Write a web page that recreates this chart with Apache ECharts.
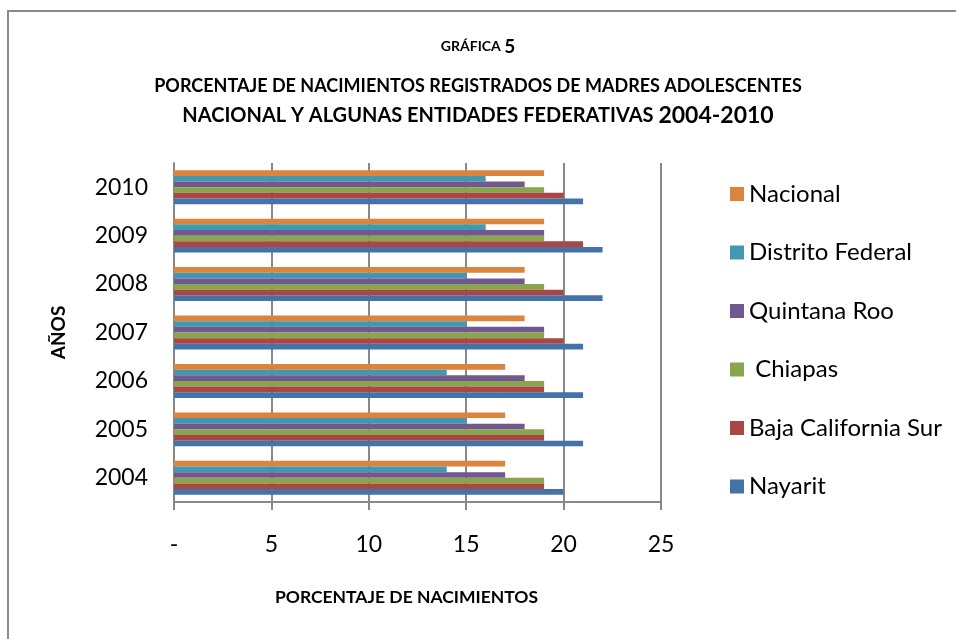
<!DOCTYPE html>
<html><head><meta charset="utf-8">
<script src="https://cdn.jsdelivr.net/npm/echarts@6/dist/echarts.min.js"></script>
<style>html,body{margin:0;padding:0;background:#fff}#c{width:956px;height:639px}</style>
</head><body><div id="c"></div>
<script>
const years = ['2004','2005','2006','2007','2008','2009','2010'];
const nayarit   = [20, 21, 21, 21, 22, 22, 21];
const bcs       = [19, 19, 19, 20, 20, 21, 20];
const chiapas   = [19, 19, 19, 19, 19, 19, 19];
const quintana  = [17, 18, 18, 19, 18, 19, 18];
const df        = [14, 15, 14, 15, 15, 16, 16];
const nacional  = [17, 17, 17, 18, 18, 19, 19];
const xTicks = [0, 5, 10, 15, 20, 25];

const F = 'Lato, "Noto Sans", sans-serif';
const seriesDefs = [
  ['Nacional', nacional, '#DB843D'],
  ['Distrito Federal', df, '#4198AF'],
  ['Quintana Roo', quintana, '#71588F'],
  [' Chiapas', chiapas, '#89A54E'],
  ['Baja California Sur', bcs, '#AA4643'],
  ['Nayarit', nayarit, '#4572A7']
];
const chart = echarts.init(document.getElementById('c'));
chart.setOption({
  animation: false,
  backgroundColor: '#fff',
  title: [
    {text: '{a|GRÁFICA }{b|5}', left: 'center', top: 32, padding: [5, 19, 5, 5], textStyle: {rich: {a: {fontFamily: F, fontWeight: 'bold', fontSize: 14, color: '#000'}, b: {fontFamily: F, fontWeight: 'bold', fontSize: 19, color: '#000'}}}},
    {text: 'PORCENTAJE DE NACIMIENTOS REGISTRADOS DE MADRES ADOLESCENTES', left: 'center', top: 72, padding: [5, 19, 5, 5], textStyle: {fontFamily: F, fontWeight: 'bold', fontSize: 18, color: '#000'}},
    {text: '{a|NACIONAL Y ALGUNAS ENTIDADES FEDERATIVAS }{b|2004-2010}', left: 'center', top: 99, padding: [5, 19, 5, 5], textStyle: {rich: {a: {fontFamily: F, fontWeight: 'bold', fontSize: 20, color: '#000'}, b: {fontFamily: F, fontWeight: 'bold', fontSize: 23, color: '#000'}}}}
  ],
  graphic: [{type: 'rect', shape: {x: 8, y: 11, width: 960, height: 640}, style: {fill: 'none', stroke: '#8a8a8a', lineWidth: 2}, silent: true}],
  legend: {
    orient: 'vertical', left: 725, top: 177,
    itemWidth: 14, itemHeight: 14, itemGap: 34.5, itemTextGap: 8,
    icon: 'rect',
    data: ['Nacional', 'Distrito Federal', 'Quintana Roo', ' Chiapas', 'Baja California Sur', 'Nayarit'],
    textStyle: {fontFamily: F, fontSize: 24, color: '#000', lineHeight: 24}
  },
  grid: {left: 174, top: 163, width: 487, height: 339, containLabel: false},
  xAxis: {
    type: 'value', min: 0, max: 25, interval: 5,
    name: 'PORCENTAJE DE NACIMIENTOS', nameLocation: 'middle', nameGap: 86,
    nameTextStyle: {fontFamily: F, fontWeight: 'bold', fontSize: 17.5, color: '#000', padding: [0, 22, 0, 0]},
    axisLine: {show: true, lineStyle: {color: '#888', width: 2}},
    axisTick: {show: true, length: 8, lineStyle: {color: '#888', width: 2}},
    splitLine: {show: true, lineStyle: {color: '#888', width: 2}},
    axisLabel: {margin: 31, fontFamily: F, fontSize: 23, color: '#000', formatter: v => v === 0 ? '-' : String(v)}
  },
  yAxis: {
    type: 'category', data: years,
    name: 'AÑOS', nameLocation: 'middle', nameGap: 106, nameRotate: 90,
    nameTextStyle: {fontFamily: F, fontWeight: 'bold', fontSize: 19, color: '#000'},
    axisLine: {show: true, lineStyle: {color: '#888', width: 2}},
    axisTick: {show: false},
    axisLabel: {margin: 26, fontFamily: F, fontSize: 23, color: '#000'}
  },
  series: seriesDefs.map(([n, d, c]) => ({
    name: n, type: 'bar', data: d, barGap: '0%', barCategoryGap: '30%',
    itemStyle: {color: c}
  }))
});
</script></body></html>
